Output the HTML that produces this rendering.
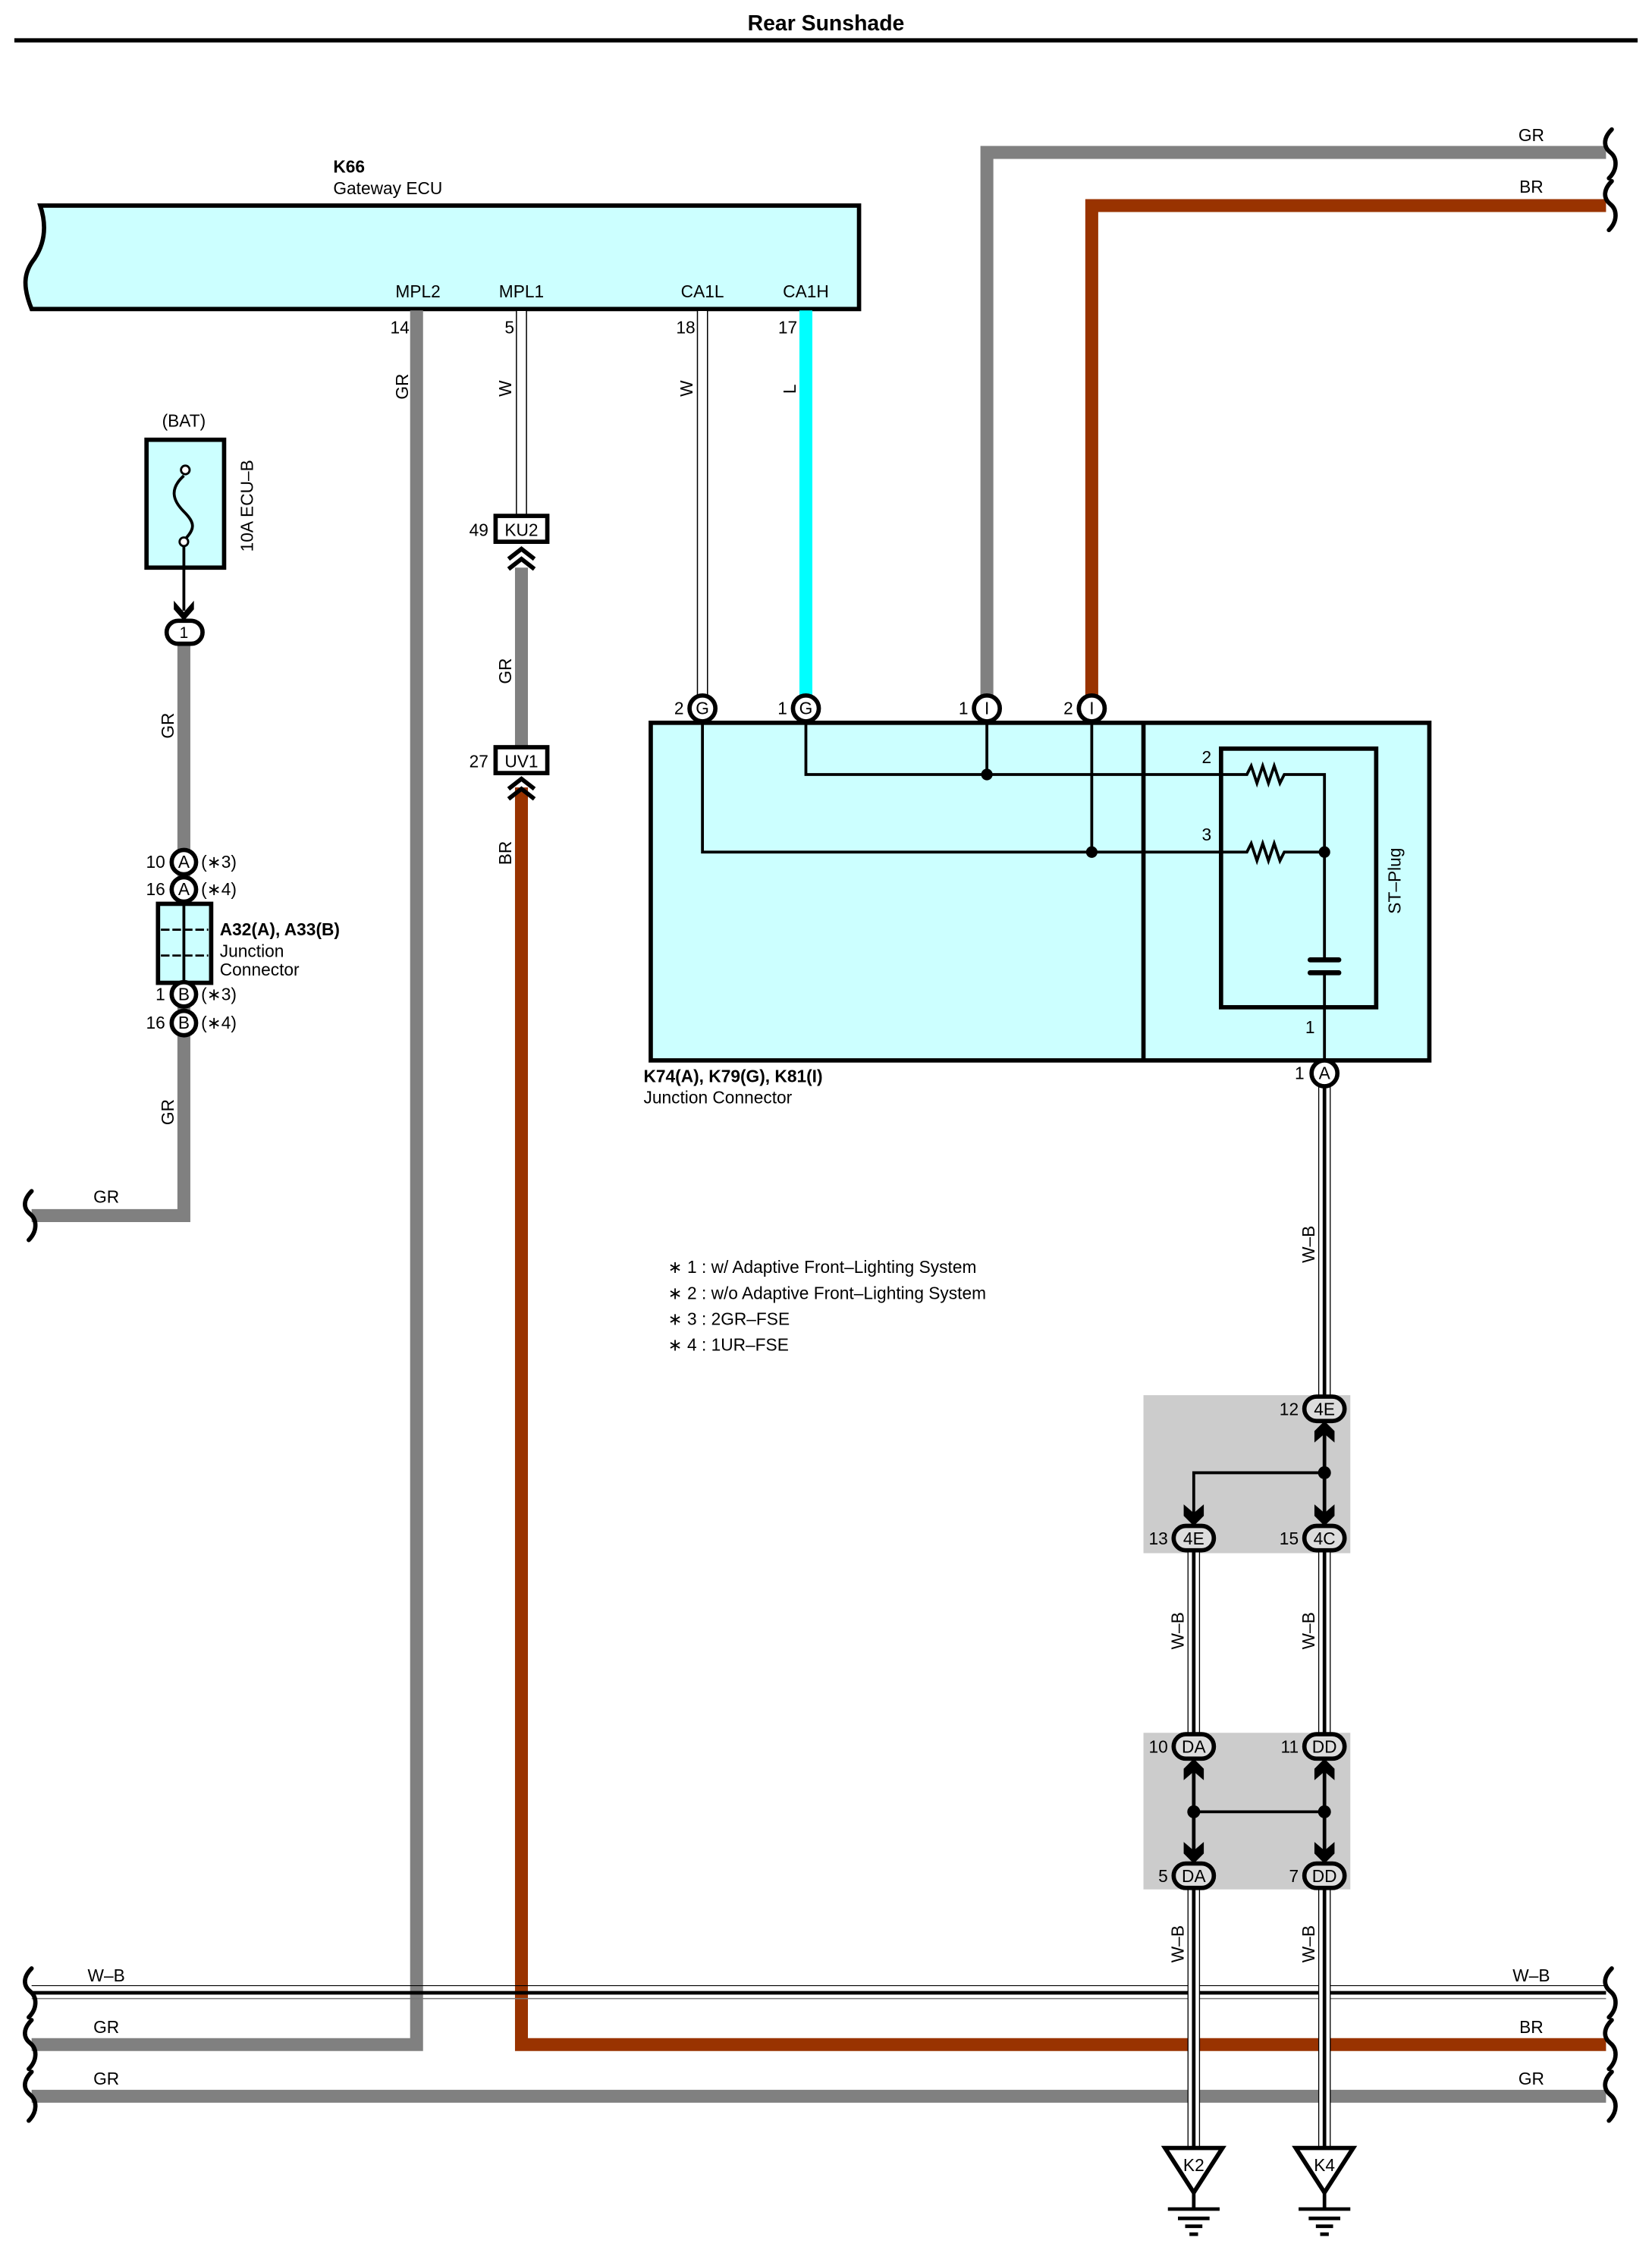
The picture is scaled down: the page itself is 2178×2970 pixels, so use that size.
<!DOCTYPE html>
<html><head><meta charset="utf-8"><style>
html,body{margin:0;padding:0;background:#fff;}
svg{display:block;}
text{font-family:"Liberation Sans",sans-serif;fill:#000;}
</style></head><body>
<svg width="2178" height="2970" viewBox="0 0 1150 1568" xmlns="http://www.w3.org/2000/svg">
<rect width="1150" height="1568" fill="#fff"/>
<!-- title -->
<text x="575" y="21" font-size="15" font-weight="bold" text-anchor="middle">Rear Sunshade</text>
<line x1="10" y1="28" x2="1140" y2="28" stroke="#000" stroke-width="3"/>

<!-- ECU -->
<text x="232" y="120" font-size="12" font-weight="bold">K66</text>
<text x="232" y="135" font-size="12">Gateway ECU</text>
<path d="M28,143 L598,143 L598,215 L22,215 C16,200 16,190 24,180 C32,168 32,155 28,143 Z" fill="#ccffff" stroke="#000" stroke-width="3"/>
<g font-size="12" text-anchor="middle">
<text x="291" y="207">MPL2</text><text x="363" y="207">MPL1</text><text x="489" y="207">CA1L</text><text x="561" y="207">CA1H</text>
</g>
<g font-size="12" text-anchor="end">
<text x="285" y="232">14</text><text x="358" y="232">5</text><text x="484" y="232">18</text><text x="555" y="232">17</text>
</g>

<!-- top right wires -->
<path d="M687,487 L687,106 L1118,106" fill="none" stroke="#808080" stroke-width="9"/>
<path d="M760,487 L760,143 L1118,143" fill="none" stroke="#993300" stroke-width="9"/>
<text x="1066" y="98" font-size="12" text-anchor="middle">GR</text>
<text x="1066" y="134" font-size="12" text-anchor="middle">BR</text>

<!-- GR MPL2 -->
<path d="M290,216 L290,1423 L22,1423" fill="none" stroke="#808080" stroke-width="9"/>
<!-- MPL1 W -->
<rect x="359.5" y="216" width="7" height="142" fill="#fff" stroke="#000" stroke-width="0.8"/>
<!-- CA1L W -->
<rect x="485.5" y="216" width="7" height="269" fill="#fff" stroke="#000" stroke-width="0.8"/>
<!-- CA1H L -->
<line x1="561" y1="216" x2="561" y2="485" stroke="#00ffff" stroke-width="9"/>
<g font-size="12">
<text transform="translate(284,278) rotate(-90)">GR</text>
<text transform="translate(356,276) rotate(-90)">W</text>
<text transform="translate(482,276) rotate(-90)">W</text>
<text transform="translate(554,274) rotate(-90)">L</text>
</g>

<!-- KU2/UV1 -->
<line x1="363" y1="395" x2="363" y2="520" stroke="#808080" stroke-width="9"/>
<path d="M363,548 L363,1423 L1118,1423" fill="none" stroke="#993300" stroke-width="9"/>
<rect x="345" y="359" width="36" height="18" fill="#fff" stroke="#000" stroke-width="3"/>
<text x="363" y="373" font-size="12" text-anchor="middle">KU2</text>
<text x="340" y="373" font-size="12" text-anchor="end">49</text>
<path d="M354,389 L363,382 L372,389 M354,396 L363,389 L372,396" fill="none" stroke="#000" stroke-width="3"/>
<rect x="345" y="520" width="36" height="18" fill="#fff" stroke="#000" stroke-width="3"/>
<text x="363" y="534" font-size="12" text-anchor="middle">UV1</text>
<text x="340" y="534" font-size="12" text-anchor="end">27</text>
<path d="M354,549 L363,542 L372,549 M354,556 L363,549 L372,556" fill="none" stroke="#000" stroke-width="3"/>
<text transform="translate(356,476) rotate(-90)" font-size="12">GR</text>
<text transform="translate(356,602) rotate(-90)" font-size="12">BR</text>

<!-- left fuse -->
<text x="128" y="297" font-size="12" text-anchor="middle">(BAT)</text>
<rect x="102" y="306" width="54" height="89" fill="#ccffff" stroke="#000" stroke-width="3"/>
<path d="M128,331 C118,340 120,348 128,356 C136,364 136,368 128,376" fill="none" stroke="#000" stroke-width="2"/>
<circle cx="129" cy="327" r="3" fill="#fff" stroke="#000" stroke-width="1.5"/>
<circle cx="128" cy="377" r="3" fill="#fff" stroke="#000" stroke-width="1.5"/>
<line x1="128" y1="380" x2="128" y2="425" stroke="#000" stroke-width="2"/>
<polygon points="128,426 121,418 121,424 128,432 135,424 135,418" fill="#000"/>
<text transform="translate(176,384) rotate(-90)" font-size="12">10A ECU–B</text>
<path d="M128,448 L128,846 L22,846" fill="none" stroke="#808080" stroke-width="9"/>
<rect x="116" y="432" width="25" height="16" rx="8" fill="#fff" stroke="#000" stroke-width="3"/>
<text x="128" y="444" font-size="11" text-anchor="middle">1</text>
<text transform="translate(121,514) rotate(-90)" font-size="12">GR</text>
<text transform="translate(121,783) rotate(-90)" font-size="12">GR</text>
<text x="74" y="837" font-size="12" text-anchor="middle">GR</text>
<!-- A32 junction -->
<rect x="110" y="629" width="37" height="55" fill="#ccffff" stroke="#000" stroke-width="3"/>
<line x1="128" y1="629" x2="128" y2="684" stroke="#000" stroke-width="2"/>
<line x1="112" y1="647" x2="145" y2="647" stroke="#000" stroke-width="1.5" stroke-dasharray="6,2"/>
<line x1="112" y1="665" x2="145" y2="665" stroke="#000" stroke-width="1.5" stroke-dasharray="6,2"/>
<g font-size="12">
<circle cx="128" cy="600" r="8.5" fill="#fff" stroke="#000" stroke-width="3"/><text x="128" y="604" text-anchor="middle">A</text>
<circle cx="128" cy="619" r="8.5" fill="#fff" stroke="#000" stroke-width="3"/><text x="128" y="623" text-anchor="middle">A</text>
<circle cx="128" cy="692" r="8.5" fill="#fff" stroke="#000" stroke-width="3"/><text x="128" y="696" text-anchor="middle">B</text>
<circle cx="128" cy="712" r="8.5" fill="#fff" stroke="#000" stroke-width="3"/><text x="128" y="716" text-anchor="middle">B</text>
<text x="115" y="604" text-anchor="end">10</text><text x="115" y="623" text-anchor="end">16</text>
<text x="115" y="696" text-anchor="end">1</text><text x="115" y="716" text-anchor="end">16</text>
<text x="140" y="604">(∗3)</text><text x="140" y="623">(∗4)</text>
<text x="140" y="696">(∗3)</text><text x="140" y="716">(∗4)</text>
<text x="153" y="651" font-weight="bold">A32(A), A33(B)</text>
<text x="153" y="666">Junction</text><text x="153" y="679">Connector</text>
</g>

<!-- junction connector K74 -->
<rect x="453" y="503" width="542" height="235" fill="#ccffff" stroke="#000" stroke-width="3"/>
<line x1="796" y1="503" x2="796" y2="738" stroke="#000" stroke-width="3"/>
<rect x="850" y="521" width="108" height="180" fill="none" stroke="#000" stroke-width="3"/>
<g fill="none" stroke="#000" stroke-width="2">
<path d="M561,503 L561,539 L868,539 l3,-6 l4,12 l4,-12 l4,12 l4,-12 l4,12 l3,-6 L922,539 L922,668"/>
<path d="M489,503 L489,593 L868,593 l3,-6 l4,12 l4,-12 l4,12 l4,-12 l4,12 l3,-6 L922,593"/>
<line x1="687" y1="503" x2="687" y2="539"/>
<line x1="760" y1="503" x2="760" y2="593"/>
<line x1="922" y1="677" x2="922" y2="738"/>
</g>
<line x1="912" y1="668" x2="932" y2="668" stroke="#000" stroke-width="3.5" stroke-linecap="round"/>
<line x1="912" y1="677" x2="932" y2="677" stroke="#000" stroke-width="3.5" stroke-linecap="round"/>
<circle cx="687" cy="539" r="4" fill="#000"/><circle cx="760" cy="593" r="4" fill="#000"/><circle cx="922" cy="593" r="4" fill="#000"/>
<g font-size="12">
<text x="840" y="531" text-anchor="middle">2</text><text x="840" y="585" text-anchor="middle">3</text><text x="912" y="719" text-anchor="middle">1</text>
<text transform="translate(975,636) rotate(-90)">ST–Plug</text>
<circle cx="489" cy="493" r="9" fill="#fff" stroke="#000" stroke-width="3"/><text x="489" y="497" text-anchor="middle">G</text>
<circle cx="561" cy="493" r="9" fill="#fff" stroke="#000" stroke-width="3"/><text x="561" y="497" text-anchor="middle">G</text>
<circle cx="687" cy="493" r="9" fill="#fff" stroke="#000" stroke-width="3"/><text x="687" y="497" text-anchor="middle">I</text>
<circle cx="760" cy="493" r="9" fill="#fff" stroke="#000" stroke-width="3"/><text x="760" y="497" text-anchor="middle">I</text>
<text x="476" y="497" text-anchor="end">2</text><text x="548" y="497" text-anchor="end">1</text>
<text x="674" y="497" text-anchor="end">1</text><text x="747" y="497" text-anchor="end">2</text>
<text x="448" y="753" font-weight="bold">K74(A), K79(G), K81(I)</text>
<text x="448" y="768">Junction Connector</text>
</g>

<!-- notes -->
<g font-size="12">
<text x="465" y="886">∗ 1 : w/ Adaptive Front–Lighting System</text>
<text x="465" y="904">∗ 2 : w/o Adaptive Front–Lighting System</text>
<text x="465" y="922">∗ 3 : 2GR–FSE</text>
<text x="465" y="940">∗ 4 : 1UR–FSE</text>
</g>

<!-- gray boxes -->
<rect x="796" y="971" width="144" height="110" fill="#cccccc"/>
<rect x="796" y="1206" width="144" height="109" fill="#cccccc"/>

<!-- horizontal bottom wires -->
<line x1="22" y1="1459" x2="1118" y2="1459" stroke="#808080" stroke-width="9"/>
<line x1="22" y1="1382" x2="1118" y2="1382" stroke="#000" stroke-width="0.6"/>
<line x1="22" y1="1387" x2="1118" y2="1387" stroke="#000" stroke-width="2.5"/>
<line x1="22" y1="1391" x2="1118" y2="1391" stroke="#777" stroke-width="0.8"/>
<g font-size="12" text-anchor="middle">
<text x="74" y="1379">W–B</text><text x="74" y="1415">GR</text><text x="74" y="1451">GR</text>
<text x="1066" y="1379">W–B</text><text x="1066" y="1415">BR</text><text x="1066" y="1451">GR</text>
</g>

<!-- W-B vertical wires -->
<g>
<rect x="918" y="756" width="8" height="215" fill="#fff" stroke="#000" stroke-width="0.7"/>
<line x1="922" y1="756" x2="922" y2="971" stroke="#000" stroke-width="2.5"/>
<rect x="827" y="1080" width="8" height="126" fill="#fff" stroke="#000" stroke-width="0.7"/>
<line x1="831" y1="1080" x2="831" y2="1206" stroke="#000" stroke-width="2.5"/>
<rect x="918" y="1080" width="8" height="126" fill="#fff" stroke="#000" stroke-width="0.7"/>
<line x1="922" y1="1080" x2="922" y2="1206" stroke="#000" stroke-width="2.5"/>
<rect x="827" y="1314" width="8" height="181" fill="#fff" stroke="#000" stroke-width="0.7"/>
<line x1="831" y1="1314" x2="831" y2="1495" stroke="#000" stroke-width="2.5"/>
<rect x="918" y="1314" width="8" height="181" fill="#fff" stroke="#000" stroke-width="0.7"/>
<line x1="922" y1="1314" x2="922" y2="1495" stroke="#000" stroke-width="2.5"/>
</g>
<g font-size="12">
<text transform="translate(915,879) rotate(-90)">W–B</text>
<text transform="translate(824,1148) rotate(-90)">W–B</text>
<text transform="translate(915,1148) rotate(-90)">W–B</text>
<text transform="translate(824,1366) rotate(-90)">W–B</text>
<text transform="translate(915,1366) rotate(-90)">W–B</text>
</g>
<circle cx="922" cy="747" r="9" fill="#fff" stroke="#000" stroke-width="3"/>
<text x="922" y="751" font-size="12" text-anchor="middle">A</text>
<text x="908" y="751" font-size="12" text-anchor="end">1</text>

<!-- splice 1 -->
<g stroke="#000" fill="none" stroke-width="2.5">
<line x1="922" y1="988" x2="922" y2="1062"/>
<path d="M922,1025 L831,1025 L831,1062" stroke-width="2"/>
</g>
<g fill="#000">
<polygon points="922,989 915,996 915,1004 922,998 929,1004 929,996"/>
<polygon points="922,1062 915,1055 915,1047 922,1053 929,1047 929,1055"/>
<polygon points="831,1062 824,1055 824,1047 831,1053 838,1047 838,1055"/>
<circle cx="922" cy="1025" r="4.5"/>
</g>
<!-- splice 2 -->
<g stroke="#000" fill="none" stroke-width="2.5">
<line x1="922" y1="1223" x2="922" y2="1297"/>
<line x1="831" y1="1223" x2="831" y2="1297"/>
<line x1="831" y1="1261" x2="922" y2="1261" stroke-width="2"/>
</g>
<g fill="#000">
<polygon points="922,1224 915,1231 915,1239 922,1233 929,1239 929,1231"/>
<polygon points="831,1224 824,1231 824,1239 831,1233 838,1239 838,1231"/>
<polygon points="922,1297 915,1290 915,1282 922,1288 929,1282 929,1290"/>
<polygon points="831,1297 824,1290 824,1282 831,1288 838,1282 838,1290"/>
<circle cx="922" cy="1261" r="4.5"/><circle cx="831" cy="1261" r="4.5"/>
</g>
<g font-size="12">
<rect x="908" y="972" width="28" height="17" rx="8.5" fill="#ddd" stroke="#000" stroke-width="3"/><text x="922" y="985" text-anchor="middle">4E</text>
<rect x="817" y="1062" width="28" height="17" rx="8.5" fill="#ddd" stroke="#000" stroke-width="3"/><text x="831" y="1075" text-anchor="middle">4E</text>
<rect x="908" y="1062" width="28" height="17" rx="8.5" fill="#ddd" stroke="#000" stroke-width="3"/><text x="922" y="1075" text-anchor="middle">4C</text>
<rect x="817" y="1207" width="28" height="17" rx="8.5" fill="#ddd" stroke="#000" stroke-width="3"/><text x="831" y="1220" text-anchor="middle">DA</text>
<rect x="908" y="1207" width="28" height="17" rx="8.5" fill="#ddd" stroke="#000" stroke-width="3"/><text x="922" y="1220" text-anchor="middle">DD</text>
<rect x="817" y="1297" width="28" height="17" rx="8.5" fill="#ddd" stroke="#000" stroke-width="3"/><text x="831" y="1310" text-anchor="middle">DA</text>
<rect x="908" y="1297" width="28" height="17" rx="8.5" fill="#ddd" stroke="#000" stroke-width="3"/><text x="922" y="1310" text-anchor="middle">DD</text>
<text x="904" y="985" text-anchor="end">12</text><text x="813" y="1075" text-anchor="end">13</text><text x="904" y="1075" text-anchor="end">15</text>
<text x="813" y="1220" text-anchor="end">10</text><text x="904" y="1220" text-anchor="end">11</text>
<text x="813" y="1310" text-anchor="end">5</text><text x="904" y="1310" text-anchor="end">7</text>
</g>

<!-- grounds -->
<g stroke="#000" fill="#fff" stroke-width="3">
<polygon points="811,1495 851,1495 831,1526"/>
<polygon points="902,1495 942,1495 922,1526"/>
</g>
<g stroke="#000" stroke-width="2.5">
<line x1="831" y1="1526" x2="831" y2="1537"/><line x1="922" y1="1526" x2="922" y2="1537"/>
<line x1="813" y1="1537.5" x2="849" y2="1537.5"/><line x1="820" y1="1544" x2="842" y2="1544"/><line x1="825" y1="1549.5" x2="837" y2="1549.5"/><line x1="828" y1="1555" x2="834" y2="1555"/>
<line x1="904" y1="1537.5" x2="940" y2="1537.5"/><line x1="911" y1="1544" x2="933" y2="1544"/><line x1="916" y1="1549.5" x2="928" y2="1549.5"/><line x1="919" y1="1555" x2="925" y2="1555"/>
</g>
<text x="831" y="1511" font-size="12" text-anchor="middle">K2</text>
<text x="922" y="1511" font-size="12" text-anchor="middle">K4</text>

<!-- wavy ends -->
<g fill="none" stroke="#000" stroke-width="3" stroke-linecap="round">
<path d="M1122,90 c-6,6 -6,12 -1,16 c5,4 5,12 -1,18"/>
<path d="M1122,126 c-6,6 -6,12 -1,16 c5,4 5,12 -1,18"/>
<path d="M1122,1370 c-6,6 -6,12 -1,16 c5,4 5,12 -1,18"/>
<path d="M1122,1406 c-6,6 -6,12 -1,16 c5,4 5,12 -1,18"/>
<path d="M1122,1442 c-6,6 -6,12 -1,16 c5,4 5,12 -1,18"/>
<path d="M22,829 c-6,6 -6,12 -1,16 c5,4 5,12 -1,18"/>
<path d="M22,1370 c-6,6 -6,12 -1,16 c5,4 5,12 -1,18"/>
<path d="M22,1406 c-6,6 -6,12 -1,16 c5,4 5,12 -1,18"/>
<path d="M22,1442 c-6,6 -6,12 -1,16 c5,4 5,12 -1,18"/>
</g>
</svg>
</body></html>
